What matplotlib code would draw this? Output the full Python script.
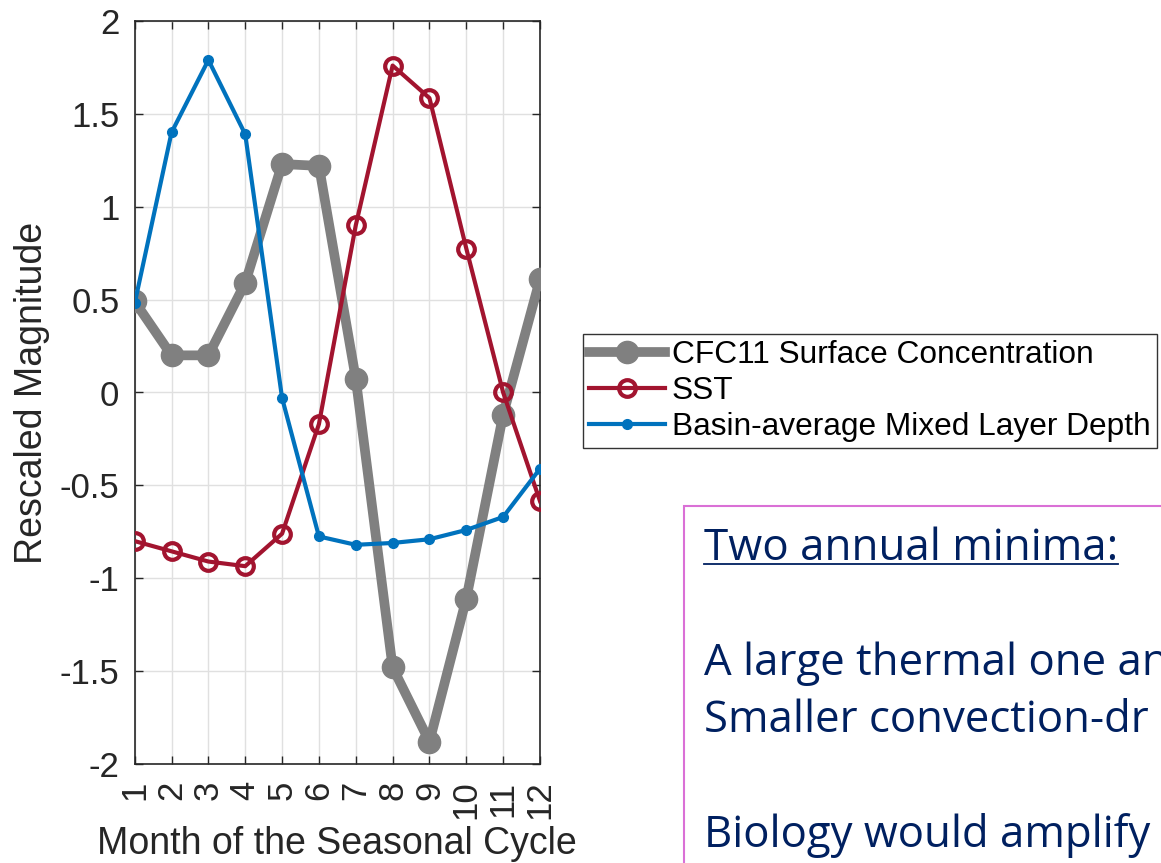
import matplotlib
matplotlib.use("Agg")
import matplotlib.pyplot as plt
from matplotlib.patches import Rectangle
from matplotlib.lines import Line2D

months = list(range(1, 13))
month_labels = [str(m) for m in months]
cfc11 = [0.49, 0.20, 0.20, 0.59, 1.23, 1.22, 0.075, -1.48, -1.88, -1.11, -0.12, 0.61]
sst = [-0.80, -0.855, -0.91, -0.935, -0.76, -0.17, 0.90, 1.76, 1.585, 0.775, 0.0, -0.585]
mld = [0.48, 1.40, 1.79, 1.39, -0.03, -0.775, -0.82, -0.81, -0.79, -0.74, -0.67, -0.41]
series_names = ["CFC11 Surface Concentration", "SST", "Basin-average Mixed Layer Depth"]
y_ticks = [-2, -1.5, -1, -0.5, 0, 0.5, 1, 1.5, 2]
y_tick_labels = ["-2", "-1.5", "-1", "-0.5", "0", "0.5", "1", "1.5", "2"]
note_lines = ["Two annual minima:", "A large thermal one an", "Smaller convection-dr", "Biology would amplify"]

plt.rcParams['font.family'] = ['Liberation Sans', 'DejaVu Sans']

W, H = 1161, 863
fig = plt.figure(figsize=(W / 100, H / 100), dpi=100)
ax_bottom_px, ax_top_px = 764, 21
ax = fig.add_axes([134.7 / W, 1 - ax_bottom_px / H, (540 - 134.7) / W, (ax_bottom_px - ax_top_px) / H])

ax.plot(months, cfc11, color='#808080', lw=7, marker='o', ms=16, label=series_names[0], zorder=3)
ax.plot(months, sst, color='#A2142F', lw=3, marker='o', ms=12, mfc='none', mew=3, label=series_names[1], zorder=4)
ax.plot(months, mld, color='#0072BD', lw=3, marker='o', ms=7, label=series_names[2], zorder=5)

ax.set_xlim(1, 12)
ax.set_ylim(-2, 2)
ax.set_xticks(months)
ax.set_xticklabels(month_labels, rotation=90)
ax.set_yticks(y_ticks)
ax.set_yticklabels(y_tick_labels)
ax.grid(True, color='#e0e0e0', lw=1)
ax.set_axisbelow(True)
ax.tick_params(direction='in', length=6, width=1, top=True, right=True, labelsize=25, colors='#262626')
ax.tick_params(axis='x', pad=12)
ax.tick_params(axis='y', pad=11)
for s in ax.spines.values():
    s.set_color('#262626')
    s.set_linewidth(1.2)
ax.set_xlabel("Month of the Seasonal Cycle", fontsize=27, color='#262626')
ax.xaxis.set_label_coords(0.5, -(826 - ax_bottom_px) / (ax_bottom_px - ax_top_px))
ax.set_ylabel("Rescaled Magnitude", fontsize=27, color='#262626', labelpad=7)

leg = fig.legend(loc='upper left', bbox_to_anchor=(583 / W, 1 - 334 / H), fontsize=22.8,
                 frameon=True, fancybox=False, edgecolor='#333333', framealpha=1,
                 handlelength=2.4, handletextpad=0.2, borderpad=0.2, labelspacing=0.18,
                 borderaxespad=0)
leg.get_frame().set_linewidth(1.0)

# annotation box
fig.patches.append(Rectangle((684 / W, -0.05), 0.5, 1 - 506 / H + 0.05, transform=fig.transFigure,
                             fill=False, edgecolor='#DA70D6', lw=1.5))
navy = '#002060'
ys = [560, 675, 732, 847]
sizes = [31.6, 31.5, 31.5, 31.5]
texts = []
for t, yy, fs in zip(note_lines, ys, sizes):
    texts.append(fig.text(704 / W, 1 - yy / H, t, fontsize=fs, color=navy, family='Open Sans',
                          va='baseline', ha='left'))

fig.canvas.draw()
bb = texts[0].get_window_extent()
uy = 1 - 564 / H
fig.lines.append(Line2D([bb.x0 / W, bb.x1 / W], [uy, uy], transform=fig.transFigure, color=navy, lw=1.3))

fig.savefig("out.png", dpi=100)
